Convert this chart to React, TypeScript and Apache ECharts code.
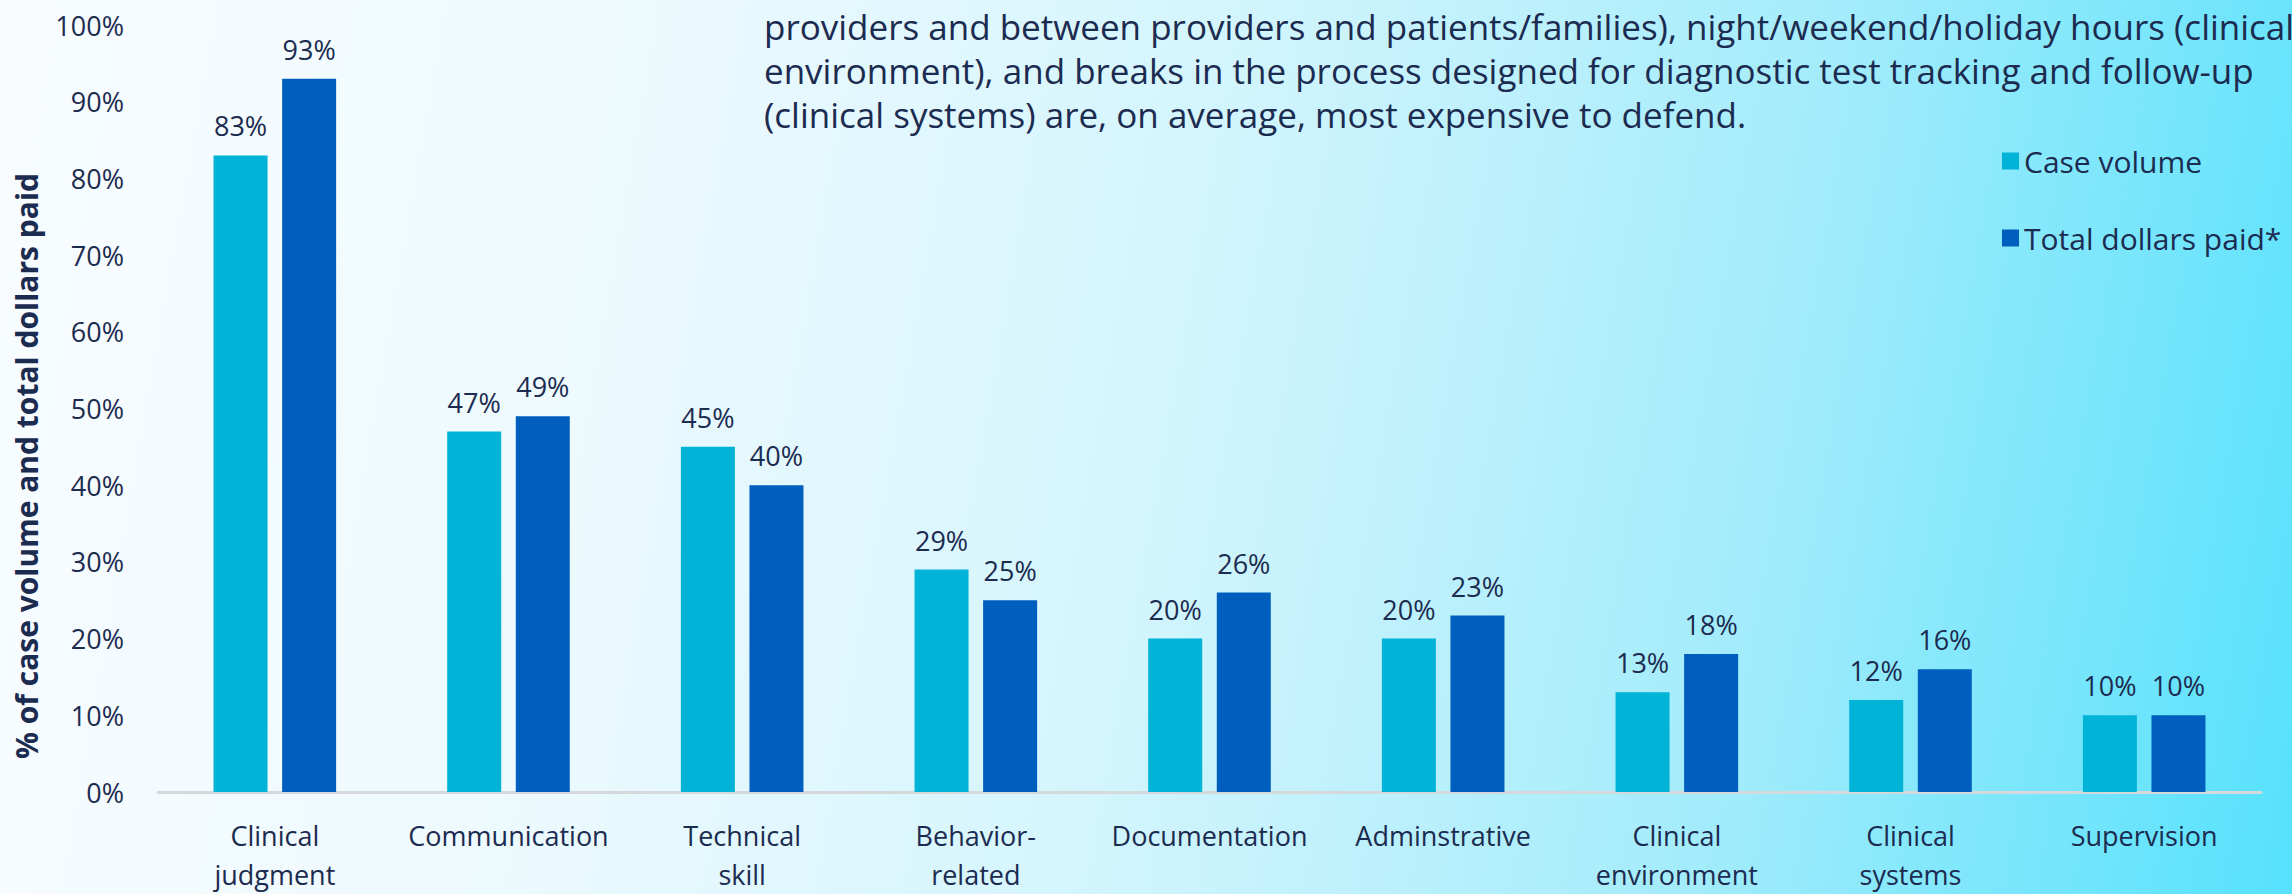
import React, { useEffect, useRef } from "react";
import * as echarts from "echarts";

const categories = [
  "Clinical\njudgment",
  "Communication",
  "Technical\nskill",
  "Behavior-\nrelated",
  "Documentation",
  "Adminstrative",
  "Clinical\nenvironment",
  "Clinical\nsystems",
  "Supervision",
];
const caseVolume = [83, 47, 45, 29, 20, 20, 13, 12, 10];
const totalDollars = [93, 49, 40, 25, 26, 23, 18, 16, 10];
const seriesNames = ["Case volume", "Total dollars paid*"];
const yTitle = "% of case volume and total dollars paid";
const noteLines = [
  "providers and between providers and patients/families), night/weekend/holiday hours (clinical",
  "environment), and breaks in the process designed for diagnostic test tracking and follow-up",
  "(clinical systems) are, on average, most expensive to defend.",
];

const FONT = "'Open Sans', 'Noto Sans', sans-serif";
const TEXT = "#1c2b50";
const C1 = "#00B3D7";
const C2 = "#005EBE";

export default function App() {
  const ref = useRef<HTMLDivElement>(null);
  useEffect(() => {
    document.body.style.margin = "0";
    const chart = echarts.init(ref.current!, null, { renderer: "svg" });
    chart.setOption({
      animation: false,
      textStyle: { fontFamily: FONT, color: TEXT },
      grid: { left: 158, right: 31, top: 25, bottom: 95 },
      legend: {
        orient: "vertical",
        left: 1997,
        top: 140,
        itemWidth: 17,
        itemHeight: 17,
        itemGap: 45,
        icon: "rect",
        textStyle: { fontFamily: FONT, fontSize: 30, color: TEXT, lineHeight: 32, padding: [0, 0, 0, 0] },
        data: seriesNames,
      },
      xAxis: {
        type: "category",
        data: categories,
        axisLine: { lineStyle: { color: "#d6d9dc", width: 3 } },
        axisTick: { show: false },
        axisLabel: {
          fontFamily: FONT,
          fontSize: 27,
          color: TEXT,
          lineHeight: 39,
          margin: 24,
          interval: 0,
        },
      },
      yAxis: {
        type: "value",
        min: 0,
        max: 100,
        interval: 10,
        splitLine: { show: false },
        axisLine: { show: false },
        axisTick: { show: false },
        axisLabel: {
          fontFamily: FONT,
          fontSize: 27,
          color: TEXT,
          margin: 34,
          formatter: (v: number) => v + "%",
        },
      },
      series: [
        {
          name: seriesNames[0],
          type: "bar",
          data: caseVolume,
          barWidth: 54,
          barGap: "27%",
          itemStyle: { color: C1 },
          label: {
            show: true,
            position: "top",
            distance: 16,
            formatter: "{c}%",
            fontFamily: FONT,
            fontSize: 27,
            color: TEXT,
          },
        },
        {
          name: seriesNames[1],
          type: "bar",
          data: totalDollars,
          barWidth: 54,
          barGap: "27%",
          itemStyle: { color: C2 },
          label: {
            show: true,
            position: "top",
            distance: 16,
            formatter: "{c}%",
            fontFamily: FONT,
            fontSize: 27,
            color: TEXT,
          },
        },
      ],
      graphic: [
        {
          type: "text",
          x: 26,
          y: 466,
          rotation: Math.PI / 2,
          style: {
            text: yTitle,
            fontFamily: FONT,
            fontSize: 30,
            fontWeight: "bold",
            fill: TEXT,
            align: "center",
            verticalAlign: "middle",
          },
        },
        ...noteLines.map((t, i) => ({
          type: "text",
          x: 764,
          y: 26 + i * 44,
          style: {
            text: t,
            fontFamily: FONT,
            fontSize: 35,
            fill: TEXT,
            align: "left",
            verticalAlign: "middle",
          },
        })),
      ],
    });
    return () => chart.dispose();
  }, []);
  return (
    <div
      style={{
        position: "fixed",
        left: 0,
        top: 0,
        width: 2292,
        height: 894,
        overflow: "hidden",
        background:
          "linear-gradient(100deg, #f8fcff 0%, #eefafe 25%, #d4f5fd 50%, #a4ecfb 75%, #56e1fc 100%)",
      }}
    >
      <div ref={ref} style={{ width: 2292, height: 894 }} />
    </div>
  );
}
